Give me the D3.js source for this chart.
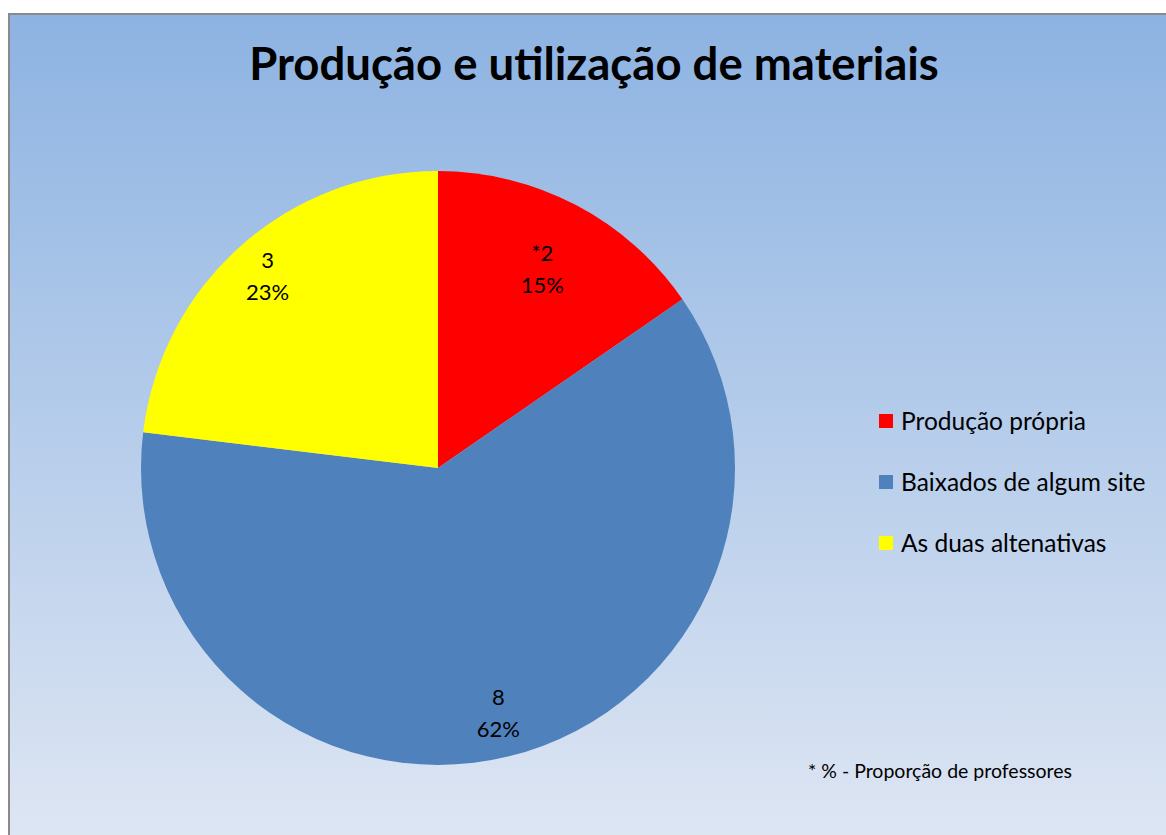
<!DOCTYPE html>
<html><head><meta charset="utf-8">
<script src="https://cdn.jsdelivr.net/npm/d3@7"></script>
<style>body{margin:0;background:#fff;}svg{display:block;}</style>
</head><body>
<svg id="c" width="1166" height="835"></svg>
<script>
const categories = ["Produção própria", "Baixados de algum site", "As duas altenativas"];
const values = [2, 8, 3];
const valueLabels = ["*2", "8", "3"];
const colors = ["#FF0000", "#4F81BD", "#FFFF00"];
const title = "Produção e utilização de materiais";
const footnote = "* % - Proporção de professores";

const font = "Lato, 'Open Sans', sans-serif";
const svg = d3.select("#c");
const defs = svg.append("defs");
const grad = defs.append("linearGradient").attr("id","bg").attr("x1",0).attr("y1",0).attr("x2",0).attr("y2",1);
grad.append("stop").attr("offset","0%").attr("stop-color","#8DB3E2");
grad.append("stop").attr("offset","100%").attr("stop-color","#DEE6F3");

svg.append("rect").attr("x",9).attr("y",14).attr("width",1170).attr("height",830)
  .attr("fill","url(#bg)").attr("stroke","#8a8a8a").attr("stroke-width",2);

svg.append("text").attr("x",594).attr("y",80).attr("text-anchor","middle")
  .attr("font-family",font).attr("font-weight","bold").attr("font-size",45.5)
  .attr("fill","#000").text(title);

const cx = 438, cy = 468, R = 297;
const total = d3.sum(values);
const pie = d3.pie().sort(null).value(d => d)(values);
const arc = d3.arc().innerRadius(0).outerRadius(R);
const g = svg.append("g").attr("transform",`translate(${cx},${cy})`);
g.selectAll("path").data(pie).join("path").attr("d",arc).attr("fill",(d,i)=>colors[i]);

const labelFactor = [0.755, 0.85, 0.865];
pie.forEach((d,i)=>{
  const a = (d.startAngle + d.endAngle)/2;
  const r = R*labelFactor[i];
  const x = r*Math.sin(a), y = -r*Math.cos(a);
  const t = g.append("text").attr("text-anchor","middle").attr("font-family",font)
    .attr("font-size",22).attr("fill","#000");
  t.append("tspan").attr("x",x).attr("y",y-8).text(valueLabels[i]);
  t.append("tspan").attr("x",x).attr("y",y+24).text(d3.format(".0%")(values[i]/total));
});

const lg = svg.append("g");
categories.forEach((c,i)=>{
  const y = 421 + i*61;
  lg.append("rect").attr("x",879).attr("y",y-7).attr("width",14).attr("height",14).attr("fill",colors[i]);
  lg.append("text").attr("x",901).attr("y",y+9).attr("font-family",font).attr("font-size",24.5).attr("fill","#000").text(c);
});

svg.append("text").attr("x",808).attr("y",778).attr("font-family",font).attr("font-size",19.5).attr("fill","#000").text(footnote);
</script>
</body></html>
